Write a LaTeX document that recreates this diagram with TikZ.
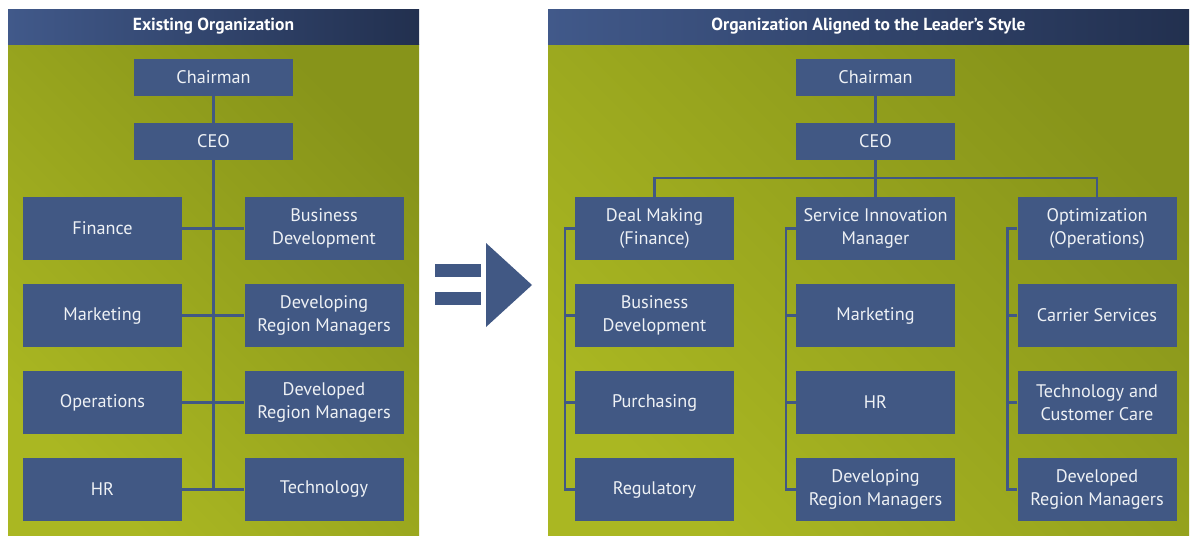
\documentclass[tikz,border=0pt]{standalone}
\usepackage{fontspec}
\setmainfont{PT Sans}
\usetikzlibrary{positioning}
\definecolor{boxblue}{HTML}{415884}
\definecolor{headlight}{HTML}{41598A}
\definecolor{headdark}{HTML}{22304F}
\definecolor{olivelight}{HTML}{AAB722}
\definecolor{olivedark}{HTML}{87941A}
\definecolor{boxtext}{HTML}{EEF1F5}

\begin{document}
\begin{tikzpicture}[x=1pt,y=-1pt,node distance=87pt,
    unit node/.style={fill=boxblue,minimum width=159pt,minimum height=63pt,inner sep=0pt,align=center,text=boxtext,font=\fontsize{18.2}{23}\selectfont},
    top node/.style={unit node,minimum height=37pt},
    head node/.style={text=white,font=\fontsize{17.5}{20}\selectfont\bfseries},
    link/.style={draw=boxblue,line width=2.6pt}]
    \useasboundingbox (0,0) rectangle (1190,536);

    % panels
    \shade[top color=olivelight,bottom color=olivedark,shading angle=135] (8,44) rectangle (419,535);
    \shade[left color=headlight,right color=headdark] (8,9) rectangle (419,44);
    \shade[top color=olivelight,bottom color=olivedark,shading angle=135] (548,44) rectangle (1189,535);
    \shade[left color=headlight,right color=headdark] (548,9) rectangle (1189,44);
    \node[head node] (h1) at (213.5,26.5) {Existing Organization};
    \node[head node] (h2) at (868.5,26.5) {Organization Aligned to the Leader’s Style};

    % existing organization
    \node[top node] (chair) at (213.5,77.5) {Chairman};
    \node[top node] (ceo) at (213.5,141.5) {CEO};
    \node[unit node] (fin) at (102.5,228.5) {Finance};
    \node[unit node] (mkt) [below of=fin] {Marketing};
    \node[unit node] (ops) [below of=mkt] {Operations};
    \node[unit node] (hr) [below of=ops] {HR};
    \node[unit node] (bd) at (324,228.5) {Business\\Development};
    \node[unit node] (devg) [below of=bd] {Developing\\Region Managers};
    \node[unit node] (devd) [below of=devg] {Developed\\Region Managers};
    \node[unit node] (tech) [below of=devd] {Technology};

    \path[link]
        (chair) edge (ceo)
        (ceo.south) edge (ceo.south |- hr.east)
        (fin) edge (bd)
        (mkt) edge (devg)
        (ops) edge (devd)
        (hr) edge (tech)
        ;

    % arrow
    \fill[boxblue] (435,264) rectangle (481,277);
    \fill[boxblue] (435,292) rectangle (481,305);
    \fill[boxblue] (486,243) -- (532,285) -- (486,327) -- cycle;

    % aligned organization
    \node[top node] (chair2) at (875.5,77.5) {Chairman};
    \node[top node] (ceo2) at (875.5,141.5) {CEO};
    \node[unit node] (deal) at (654.5,228.5) {Deal Making\\(Finance)};
    \node[unit node] (bd2) [below of=deal] {Business\\Development};
    \node[unit node] (purch) [below of=bd2] {Purchasing};
    \node[unit node] (reg) [below of=purch] {Regulatory};
    \node[unit node] (svc) at (875.5,228.5) {Service Innovation\\Manager};
    \node[unit node] (mkt2) [below of=svc] {Marketing};
    \node[unit node] (hr2) [below of=mkt2] {HR};
    \node[unit node] (devg2) [below of=hr2] {Developing\\Region Managers};
    \node[unit node] (opt) at (1097,228.5) {Optimization\\(Operations)};
    \node[unit node] (carr) [below of=opt] {Carrier Services};
    \node[unit node] (tech2) [below of=carr] {Technology and\\Customer Care};
    \node[unit node] (devd2) [below of=tech2] {Developed\\Region Managers};

    \coordinate (bus) at (875.5,178);
    \path[link]
        (chair2) edge (ceo2)
        (ceo2) edge (svc)
        ;
    \draw[link] (deal.north) |- (bus) -| (opt.north);
    \foreach \a/\b in {deal/reg,svc/devg2,opt/devd2}
        \draw[link] (\a.west) -- ++(-10,0) |- (\b.west);
    \foreach \n in {bd2,purch,mkt2,hr2,carr,tech2}
        \draw[link] (\n.west) -- ++(-10,0);
\end{tikzpicture}
\end{document}
